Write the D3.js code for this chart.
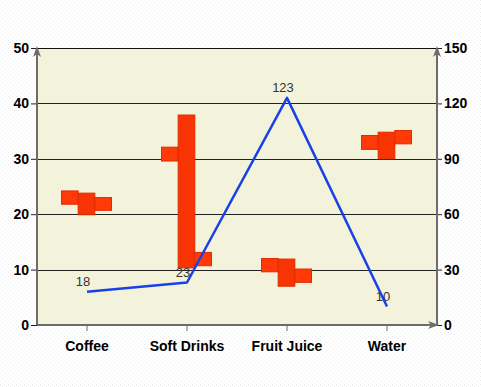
<!DOCTYPE html>
<html>
<head>
<meta charset="utf-8">
<script src="https://cdn.jsdelivr.net/npm/d3@7"></script>
<style>
  body { margin: 0; background: #fff; }
  svg { display: block; }
</style>
</head>
<body>
<div id="chart"></div>
<script>
// values
const categories = ["Coffee", "Soft Drinks", "Fruit Juice", "Water"]
const barLowA = [21.8, 29.6, 9.6, 31.7]
const barHighA = [24.2, 32.1, 12.0, 34.2]
const barLowB = [19.9, 10.3, 7.0, 30.0]
const barHighB = [23.8, 37.9, 11.9, 34.8]
const barLowC = [20.7, 10.7, 7.7, 32.7]
const barHighC = [23.0, 13.1, 10.1, 35.1]
const lineValues = [18, 23, 123, 10]
const leftTicks = [0, 10, 20, 30, 40, 50]
const rightTicks = [0, 30, 60, 90, 120, 150]

const width = 481, height = 387
const margin = { top: 48, right: 44, bottom: 62, left: 37 }
const innerW = width - margin.left - margin.right
const innerH = height - margin.top - margin.bottom

const svg = d3.select("#chart").append("svg")
  .attr("width", width)
  .attr("height", height)

// faint dotted page texture
const defs = svg.append("defs")
const pat = defs.append("pattern")
  .attr("id", "dots")
  .attr("width", 4).attr("height", 4)
  .attr("patternUnits", "userSpaceOnUse")
pat.append("rect").attr("width", 4).attr("height", 4).attr("fill", "#fff")
pat.append("rect").attr("x", 0).attr("y", 0).attr("width", 1).attr("height", 1).attr("fill", "#ececec")
pat.append("rect").attr("x", 2).attr("y", 2).attr("width", 1).attr("height", 1).attr("fill", "#ececec")
svg.append("rect").attr("width", width).attr("height", height).attr("fill", "url(#dots)")

const x = d3.scaleBand()
  .domain(categories)
  .range([margin.left, margin.left + innerW])
const sub = d3.scaleBand()
  .domain(["A", "B", "C"])
  .range([-25.5, 24.5])
const yLeft = d3.scaleLinear().domain([0, 50]).range([margin.top + innerH, margin.top])
const yRight = d3.scaleLinear().domain([0, 150]).range([margin.top + innerH, margin.top])

// plot background
svg.append("rect")
  .attr("x", margin.left).attr("y", margin.top)
  .attr("width", innerW).attr("height", innerH)
  .attr("fill", "#f3f3dc")

// grid lines
svg.append("g")
  .selectAll("line")
  .data(leftTicks.filter(d => d > 0))
  .join("line")
  .attr("x1", margin.left).attr("x2", margin.left + innerW)
  .attr("y1", d => Math.round(yLeft(d)) + 0.5)
  .attr("y2", d => Math.round(yLeft(d)) + 0.5)
  .attr("stroke", "#222")
  .attr("stroke-width", 1)

// floating bars
const series = [
  { key: "A", low: barLowA, high: barHighA, fill: "#ff3a08" },
  { key: "B", low: barLowB, high: barHighB, fill: "#f83404" },
  { key: "C", low: barLowC, high: barHighC, fill: "#ff3a08" }
]
series.forEach(s => {
  svg.append("g")
    .selectAll("rect")
    .data(categories)
    .join("rect")
    .attr("x", d => x(d) + x.bandwidth() / 2 + sub(s.key))
    .attr("width", sub.bandwidth())
    .attr("y", (d, i) => yLeft(s.high[i]))
    .attr("height", (d, i) => yLeft(s.low[i]) - yLeft(s.high[i]))
    .attr("fill", s.fill)
    .attr("stroke", "#e02a00")
    .attr("stroke-width", 1)
})

// line series on right axis
const line = d3.line()
  .x((d, i) => x(categories[i]) + x.bandwidth() / 2)
  .y(d => yRight(d))
svg.append("path")
  .datum(lineValues)
  .attr("d", line)
  .attr("fill", "none")
  .attr("stroke", "#1a40e8")
  .attr("stroke-width", 2.5)
  .attr("stroke-linejoin", "round")

svg.append("g")
  .selectAll("text")
  .data(lineValues)
  .join("text")
  .attr("x", (d, i) => x(categories[i]) + x.bandwidth() / 2 - 4)
  .attr("y", d => yRight(d) - 6)
  .attr("text-anchor", "middle")
  .attr("font-family", "Liberation Sans, Arial, sans-serif")
  .attr("font-size", "13px")
  .attr("fill", "#333")
  .text(d => d)

// top border
svg.append("line")
  .attr("x1", margin.left).attr("x2", margin.left + innerW)
  .attr("y1", margin.top + 0.5).attr("y2", margin.top + 0.5)
  .attr("stroke", "#111")

// axes
const axisColor = "#6f6b6b"
const font = "Liberation Sans, Arial, sans-serif"

const gl = svg.append("g")
  .attr("transform", `translate(${margin.left},0)`)
  .call(d3.axisLeft(yLeft).tickValues(leftTicks).tickSize(6).tickPadding(2))
const gr = svg.append("g")
  .attr("transform", `translate(${margin.left + innerW},0)`)
  .call(d3.axisRight(yRight).tickValues(rightTicks).tickSize(5).tickPadding(2))
const gb = svg.append("g")
  .attr("transform", `translate(0,${margin.top + innerH})`)
  .call(d3.axisBottom(x).tickSize(6).tickPadding(10))

;[gl, gr, gb].forEach(g => {
  g.select(".domain").remove()
  g.selectAll(".tick line").attr("stroke", axisColor)
  g.selectAll("text")
    .attr("font-family", font)
    .attr("font-size", "14px")
    .attr("font-weight", "bold")
    .attr("fill", "#000")
})
gl.selectAll(".tick line").attr("stroke", "#222")
gr.selectAll(".tick line").attr("stroke", "#222")

// axis lines with arrow heads
const arrows = svg.append("g").attr("fill", axisColor).attr("stroke", axisColor)
const x0 = margin.left, x1 = margin.left + innerW
const yB = margin.top + innerH, yT = margin.top
arrows.append("line").attr("x1", x0).attr("x2", x0).attr("y1", yB).attr("y2", yT + 4).attr("stroke-width", 2)
arrows.append("line").attr("x1", x1).attr("x2", x1).attr("y1", yB).attr("y2", yT + 4).attr("stroke-width", 2)
arrows.append("line").attr("x1", x0).attr("x2", x1 - 4).attr("y1", yB).attr("y2", yB).attr("stroke-width", 2)
arrows.append("path").attr("d", `M${x0},${yT - 2}L${x0 - 4},${yT + 9}L${x0},${yT + 6}L${x0 + 4},${yT + 9}Z`).attr("stroke", "none")
arrows.append("path").attr("d", `M${x1},${yT - 2}L${x1 - 4},${yT + 9}L${x1},${yT + 6}L${x1 + 4},${yT + 9}Z`).attr("stroke", "none")
arrows.append("path").attr("d", `M${x1 + 2},${yB}L${x1 - 9},${yB - 4}L${x1 - 6},${yB}L${x1 - 9},${yB + 4}Z`).attr("stroke", "none")
</script>
</body>
</html>
